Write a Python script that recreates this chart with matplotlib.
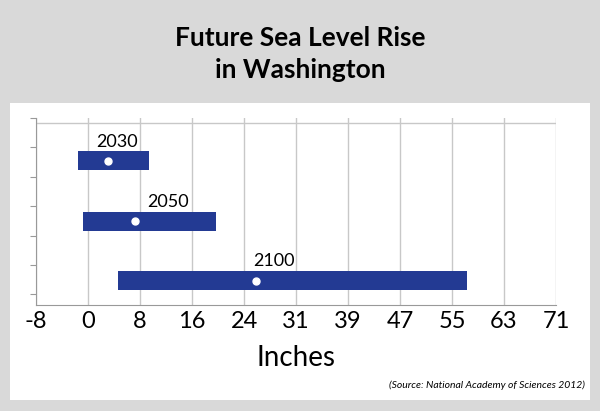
import matplotlib.pyplot as plt
from matplotlib.patches import Rectangle
import numpy as np

plt.rcParams['font.family'] = ['Lato', 'DejaVu Sans']

years = ["2030", "2050", "2100"]
low = [-1.6, -0.9, 4.4]
high = [9.1, 19.3, 57.2]
mid = [2.9, 7.0, 25.3]
label_x = [4.3, 12.0, 28.0]
rows = [4.9, 2.85, 0.83]   # row centres in axis units
tick_vals = np.arange(11) * 7.875 - 8
tick_labels = ["-8", "0", "8", "16", "24", "31", "39", "47", "55", "63", "71"]

fig = plt.figure(figsize=(6, 4.11), dpi=100)
fig.patch.set_facecolor("#d9d9d9")
fig.patches.append(Rectangle((10/600, 11/411), 580/600, 297/411, transform=fig.transFigure,
                             facecolor="white", edgecolor="none", zorder=0))

ax = fig.add_axes([36/600, 1 - 305/411, 520/600, 187/411])
ax.set_zorder(2)
ax.set_facecolor("white")
for i in range(len(years)):
    ax.barh(rows[i], high[i] - low[i], left=low[i], height=0.65, color="#233a93", zorder=3)
    ax.plot(mid[i], rows[i], "o", color="white", ms=5, zorder=4)
    ax.text(label_x[i], rows[i] + 0.38, years[i], ha="center", va="bottom", fontsize=13)

ax.set_xlim(-8, 70.75)
ax.set_ylim(0, 6.2)
ax.set_xticks(tick_vals)
ax.set_xticklabels(tick_labels, fontsize=17)
ax.set_yticks(np.arange(7) * 1.0 + 0.36)
ax.set_yticklabels([])
ax.tick_params(axis="y", length=4, color="#999999")
ax.tick_params(axis="x", length=0, pad=4)
ax.grid(axis="x", color="#c8c8c8", lw=1, zorder=0)
ax.axhline(6.2, color="#c8c8c8", lw=1)
for s in ["top", "right"]:
    ax.spines[s].set_visible(False)
for s in ["left", "bottom"]:
    ax.spines[s].set_color("#999999")
ax.set_xlabel("Inches", fontsize=20, labelpad=10)

fig.text(0.5, 0.868, "Future Sea Level Rise\nin Washington", ha="center", va="center",
         fontsize=19, fontweight="bold", linespacing=1.4)
fig.text(0.975, 0.055, "(Source: National Academy of Sciences 2012)", ha="right",
         fontsize=7.5, style="italic")

fig.savefig("out.png", dpi=100, facecolor=fig.get_facecolor())
